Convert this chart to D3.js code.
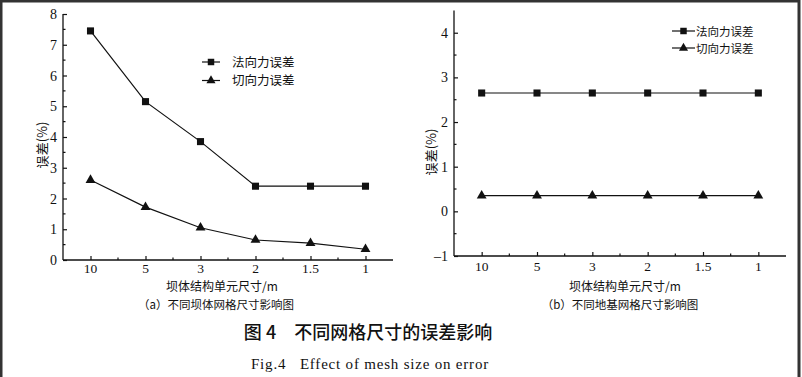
<!DOCTYPE html>
<html><head><meta charset="utf-8">
<script src="https://cdn.jsdelivr.net/npm/d3@7"></script>
<style>
html,body{margin:0;padding:0;background:#fff;}
svg{display:block;}
</style></head>
<body>
<svg id="chart" width="802" height="377"></svg>
<script>
const categories = ["10", "5", "3", "2", "1.5", "1"];
const seriesNames = ["法向力误差", "切向力误差"];
const aNormal = [7.45, 5.15, 3.85, 2.4, 2.4, 2.4];
const aTangent = [2.6, 1.72, 1.05, 0.65, 0.55, 0.35];
const bNormal = [2.65, 2.65, 2.65, 2.65, 2.65, 2.65];
const bTangent = [0.35, 0.35, 0.35, 0.35, 0.35, 0.35];
const aYTicks = [0, 1, 2, 3, 4, 5, 6, 7, 8];
const bYTicks = [-1, 0, 1, 2, 3, 4];
const xTitle = "坝体结构单元尺寸/m";
const yTitle = "误差(%)";
const captionA = "（a）不同坝体网格尺寸影响图";
const captionB = "（b）不同地基网格尺寸影响图";
const figTitleCN = "图 4　不同网格尺寸的误差影响";
const figTitleEN = "Fig.4   Effect of mesh size on error";

const svg = d3.select("#chart");
const ink = "#111";
const serif = "'Liberation Serif','DejaVu Serif',serif";
const cjk = "'Noto Sans CJK SC','Noto Sans CJK JP',sans-serif";

svg.append("rect").attr("x", 0).attr("y", 0).attr("width", 802).attr("height", 377).attr("fill", "#fff");
svg.append("path").attr("d", "M1,377 V1 H799 V377").attr("fill", "none").attr("stroke", "#333").attr("stroke-width", 3);

function panel(cfg) {
  const g = svg.append("g");
  const x = d3.scalePoint().domain(categories).range([cfg.x0, cfg.x1]).padding(0.5);
  const y = d3.scaleLinear().domain(cfg.yDomain).range([cfg.yBottom, cfg.yTop]);

  g.append("line").attr("x1", cfg.x0).attr("x2", cfg.x0).attr("y1", y(cfg.yDomain[0])).attr("y2", y(cfg.yDomain[1]))
    .attr("stroke", ink).attr("stroke-width", 1.3);
  g.append("line").attr("x1", cfg.x0).attr("x2", cfg.x1).attr("y1", y(cfg.yDomain[0])).attr("y2", y(cfg.yDomain[0]))
    .attr("stroke", ink).attr("stroke-width", 1.3);

  const yAxis = d3.axisRight(y).tickValues(cfg.yTicks).tickSize(4).tickFormat("");
  const yg = g.append("g").attr("transform", `translate(${cfg.x0},0)`).call(yAxis);
  yg.select(".domain").remove();
  yg.selectAll("line").attr("stroke", ink).attr("stroke-width", 1.2);
  const minors = [];
  for (let v = cfg.yDomain[0] + 0.5; v < cfg.yDomain[1]; v += 1) minors.push(v);
  g.selectAll(".ymin").data(minors).enter().append("line")
    .attr("x1", cfg.x0).attr("x2", cfg.x0 + 2.5).attr("y1", d => y(d)).attr("y2", d => y(d))
    .attr("stroke", ink).attr("stroke-width", 1.2);
  g.selectAll(".ylab").data(cfg.yTicks).enter().append("text")
    .attr("x", cfg.x0 - 6).attr("y", d => y(d) + 5)
    .attr("text-anchor", "end").attr("font-family", serif).attr("font-size", 14).attr("fill", ink)
    .text(d => d < 0 ? "–" + Math.abs(d) : d);

  const xAxis = d3.axisTop(x).tickSize(4).tickFormat("");
  const xg = g.append("g").attr("transform", `translate(0,${y(cfg.yDomain[0])})`).call(xAxis);
  xg.select(".domain").remove();
  xg.selectAll("line").attr("stroke", ink).attr("stroke-width", 1.2);
  const step = x.step();
  const xMinors = categories.slice(0, -1).map(c => x(c) + step / 2);
  g.selectAll(".xmin").data(xMinors).enter().append("line")
    .attr("x1", d => d).attr("x2", d => d).attr("y1", y(cfg.yDomain[0])).attr("y2", y(cfg.yDomain[0]) - 2.5)
    .attr("stroke", ink).attr("stroke-width", 1.2);
  g.selectAll(".xlab").data(categories).enter().append("text")
    .attr("x", d => x(d)).attr("y", cfg.xLabY)
    .attr("text-anchor", "middle").attr("font-family", serif).attr("font-size", 13.5).attr("fill", ink)
    .text(d => d);

  g.append("text").attr("transform", `translate(${cfg.yTitleX},${cfg.yTitleY}) rotate(-90)`)
    .attr("text-anchor", "middle").attr("font-family", cjk).attr("font-size", 13).attr("fill", ink).text(yTitle);
  g.append("text").attr("x", cfg.xTitleX).attr("y", 291)
    .attr("text-anchor", "middle").attr("font-family", cjk).attr("font-size", 12).attr("fill", ink).text(xTitle);
  g.append("text").attr("x", cfg.capX).attr("y", 308.5)
    .attr("text-anchor", "middle").attr("font-family", cjk).attr("font-size", 11.5).attr("fill", ink).text(cfg.caption);

  const line = d3.line().x((d, i) => x(categories[i])).y(d => y(d));
  [cfg.normal, cfg.tangent].forEach((vals, si) => {
    g.append("path").datum(vals).attr("d", line).attr("fill", "none").attr("stroke", ink).attr("stroke-width", 1.2);
    const sym = d3.symbol().type(si === 0 ? d3.symbolSquare : d3.symbolTriangle).size(si === 0 ? 50 : 42);
    g.selectAll(".m" + si).data(vals).enter().append("path")
      .attr("d", sym).attr("transform", (d, i) => `translate(${x(categories[i])},${y(d)})`).attr("fill", ink);
  });

  seriesNames.forEach((name, si) => {
    const ly = cfg.legY[si];
    g.append("line").attr("x1", cfg.legX0).attr("x2", cfg.legX1).attr("y1", ly).attr("y2", ly)
      .attr("stroke", ink).attr("stroke-width", 1.2);
    const sym = d3.symbol().type(si === 0 ? d3.symbolSquare : d3.symbolTriangle).size(si === 0 ? 42 : 36);
    g.append("path").attr("d", sym).attr("transform", `translate(${(cfg.legX0 + cfg.legX1) / 2},${ly})`).attr("fill", ink);
    g.append("text").attr("x", cfg.legTextX).attr("y", ly + 4.5)
      .attr("font-family", cjk).attr("font-size", cfg.legFont).attr("fill", ink).text(name);
  });
}

panel({
  x0: 63, x1: 393, yDomain: [0, 8], yBottom: 260, yTop: 14, yTicks: aYTicks,
  normal: aNormal, tangent: aTangent, caption: captionA, xLabY: 273,
  yTitleX: 47, yTitleY: 145, xTitleX: 222, capX: 216,
  legX0: 202, legX1: 220, legY: [62, 80.5], legTextX: 232, legFont: 12.5
});
panel({
  x0: 454, x1: 786, yDomain: [-1, 4.5], yBottom: 256, yTop: 10.4, yTicks: bYTicks,
  normal: bNormal, tangent: bTangent, caption: captionB, xLabY: 271,
  yTitleX: 436, yTitleY: 152, xTitleX: 625, capX: 620,
  legX0: 672, legX1: 695, legY: [31, 48], legTextX: 696, legFont: 11.5
});

svg.append("text").attr("x", 368).attr("y", 339).attr("text-anchor", "middle")
  .attr("font-family", cjk).attr("font-weight", 500).attr("font-size", 18).attr("fill", ink).attr("xml:space", "preserve")
  .text(figTitleCN);
svg.append("text").attr("x", 370).attr("y", 369).attr("text-anchor", "middle")
  .attr("font-family", serif).attr("font-size", 15).attr("letter-spacing", 0.8).attr("fill", ink).attr("xml:space", "preserve")
  .text(figTitleEN);
</script>
</body></html>
